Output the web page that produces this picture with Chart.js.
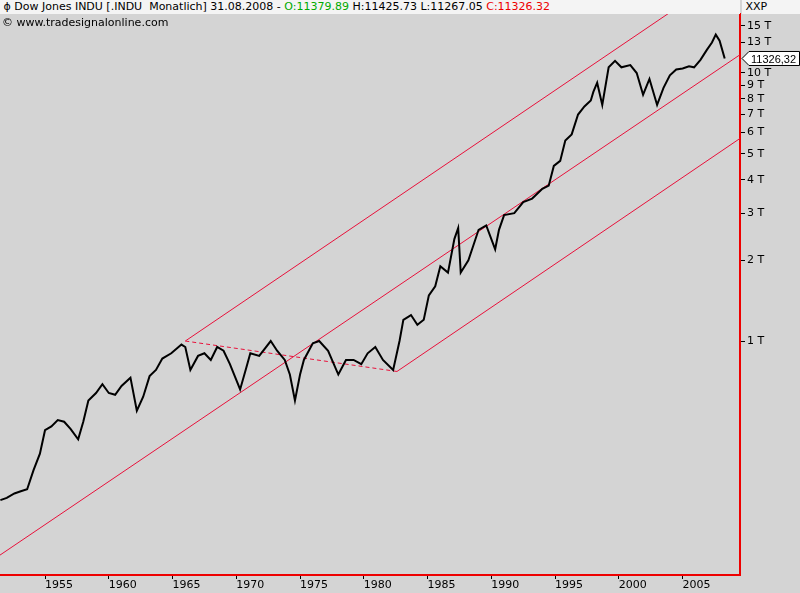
<!DOCTYPE html>
<html><head><meta charset="utf-8">
<script src="https://cdn.jsdelivr.net/npm/chart.js@4.4.0/dist/chart.umd.min.js"></script>
<style>
body{margin:0;background:#d4d4d4;font-family:"DejaVu Sans",sans-serif;}
#hdr{position:absolute;left:0;top:0;width:740px;height:14px;background:#f4f4f4;font-size:11px;line-height:13px;white-space:nowrap;}
#hdr2{position:absolute;left:742px;top:0;width:58px;height:14px;background:#f4f4f4;font-size:11px;line-height:13px;}
#cp{position:absolute;left:2px;top:16px;font-size:11px;}
#wrap{position:absolute;left:0;top:0;width:800px;height:593px;}
</style></head><body>
<div id="wrap"><canvas id="c" width="800" height="593"></canvas></div>
<div id="hdr">&nbsp;&#x03D5; Dow Jones INDU [.INDU &nbsp;Monatlich] 31.08.2008 - <span style="color:#0a0">O:11379.89</span> H:11425.73 L:11267.05 <span style="color:#e00">C:11326.32</span></div>
<div id="hdr2">&nbsp;XXP</div>
<div id="cp">© www.tradesignalonline.com</div>
<script>
const years=[1951.5,1952.0,1952.6,1953.1,1953.6,1954.1,1954.6,1955.0,1955.5,1956.0,1956.5,1957.0,1957.6,1958.0,1958.4,1959.0,1959.5,1960.0,1960.5,1961.0,1961.7,1962.2,1962.7,1963.2,1963.7,1964.2,1964.9,1965.7,1966.0,1966.4,1967.0,1967.5,1968.0,1968.5,1969.0,1969.5,1970.3,1970.8,1971.1,1971.8,1972.7,1973.2,1973.8,1974.2,1974.6,1975.0,1975.3,1976.0,1976.5,1977.2,1978.0,1978.6,1979.2,1979.8,1980.3,1980.9,1981.5,1982.3,1982.8,1983.1,1983.7,1984.2,1984.7,1985.1,1985.6,1986.0,1986.6,1987.1,1987.4,1987.6,1988.2,1989.0,1989.6,1990.3,1990.6,1991.0,1991.8,1992.5,1993.2,1994.0,1994.5,1994.9,1995.4,1995.8,1996.3,1996.8,1997.3,1997.8,1998.0,1998.3,1998.7,1999.2,1999.7,2000.2,2000.9,2001.4,2001.9,2002.4,2003.0,2003.5,2004.0,2004.5,2005.0,2005.5,2005.9,2006.4,2006.9,2007.3,2007.6,2007.9,2008.3];
const closes=[0.255,0.26,0.27,0.275,0.28,0.33,0.38,0.465,0.48,0.507,0.5,0.47,0.43,0.5,0.6,0.64,0.69,0.64,0.63,0.68,0.73,0.55,0.62,0.74,0.78,0.86,0.9,0.97,0.95,0.78,0.88,0.9,0.85,0.95,0.92,0.82,0.66,0.8,0.9,0.88,1.0,0.92,0.85,0.75,0.6,0.75,0.85,0.98,1.0,0.92,0.75,0.85,0.85,0.82,0.9,0.95,0.85,0.78,1.0,1.2,1.25,1.15,1.2,1.48,1.6,1.9,1.8,2.4,2.64,1.8,2.0,2.6,2.7,2.2,2.6,2.95,3.0,3.3,3.4,3.7,3.8,4.5,4.7,5.6,5.9,7.0,7.5,7.9,8.5,9.2,7.6,10.5,11.1,10.5,10.7,10.0,8.3,9.5,7.6,8.8,9.8,10.3,10.4,10.6,10.5,11.2,12.2,13.0,13.9,13.2,11.33];
const upperChannel=[[1966.0,1.0],[2009.5,25.3]];
const midChannel=[[1951.47,0.159],[2009.5,11.7]];
const lowerChannel=[[1982.6,0.77],[2009.5,5.7]];
const dashedLine=[[1966.0,1.0],[1982.6,0.77]];
const yTicks=[1,2,3,4,5,6,7,8,9,10,13,15];
const lastClose=11326.32;
const pts=a=>a.map(p=>({x:p[0],y:p[1]}));
const boxPlugin={id:'box',afterDraw(ch){const c=ch.ctx,y=ch.scales.y.getPixelForValue(lastClose/1000),x=742;
c.save();c.fillStyle='#fff';c.strokeStyle='#000';c.lineWidth=1;c.beginPath();c.moveTo(x,y);c.lineTo(x+7,y-7);c.lineTo(799.5,y-7);c.lineTo(799.5,y+7);c.lineTo(x+7,y+7);c.closePath();c.fill();c.stroke();
c.fillStyle='#000';c.font='11px "Liberation Sans"';c.textBaseline='middle';c.fillText('11326,32',x+9,y+1);c.restore();}};
new Chart(document.getElementById('c'),{type:'line',plugins:[boxPlugin],data:{datasets:[
{data:years.map((x,i)=>({x,y:closes[i]})),borderColor:'#000',borderWidth:2,pointRadius:0,tension:0},
{data:pts(upperChannel),borderColor:'#e8103a',borderWidth:1,pointRadius:0},
{data:pts(midChannel),borderColor:'#e8103a',borderWidth:1,pointRadius:0},
{data:pts(lowerChannel),borderColor:'#e8103a',borderWidth:1,pointRadius:0},
{data:pts(dashedLine),borderColor:'#e8103a',borderWidth:1,borderDash:[4,3],pointRadius:0}]},
options:{responsive:false,animation:false,events:[],layout:{padding:{top:14,left:0,right:0,bottom:0}},
plugins:{legend:{display:false},tooltip:{enabled:false}},
scales:{x:{type:'linear',min:1951.47,max:2009.5,afterBuildTicks:s=>{s.ticks=[1955,1960,1965,1970,1975,1980,1985,1990,1995,2000,2005].map(v=>({value:v}))},
afterFit:s=>{s.height=18},border:{color:'#e00',width:2},grid:{drawOnChartArea:false,color:'#000',tickLength:4},
ticks:{color:'#000',font:{family:'DejaVu Sans',size:11},align:'start',padding:0,maxRotation:0,callback:v=>v}},
y:{type:'logarithmic',position:'right',min:0.134,max:16.6,afterBuildTicks:s=>{s.ticks=yTicks.map(v=>({value:v}))},
afterFit:s=>{s.width=60},border:{color:'#e00',width:2},grid:{drawOnChartArea:false,color:'#000',tickLength:5},
ticks:{color:'#000',font:{family:'DejaVu Sans',size:11},padding:2,callback:v=>v+' T'}}}}});
</script></body></html>
